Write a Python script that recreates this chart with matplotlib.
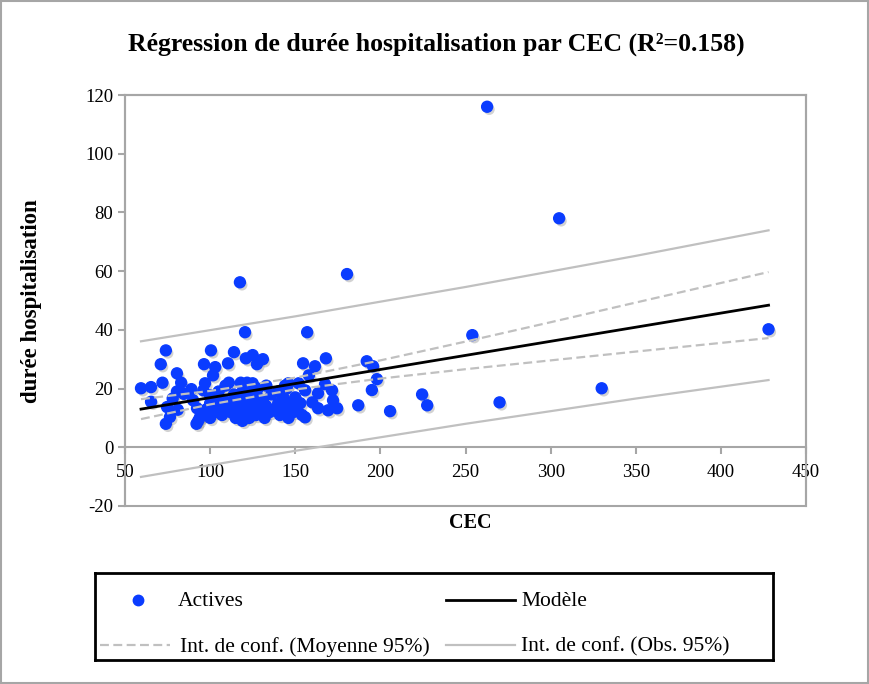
import matplotlib.pyplot as plt
import matplotlib.patheffects as pe
from matplotlib.lines import Line2D
from matplotlib.patches import Rectangle
import numpy as np

cec = np.array([
    59.4, 65.3, 65.3, 71, 74, 72, 74.7, 76.4, 74, 78, 80.5, 81, 80.5, 83, 84.5,
    89, 90, 92, 92.3, 94, 96.4, 97, 96, 98, 100, 100.5, 101.7, 103, 103, 101,
    110.5, 114, 111, 117.5, 120.5, 121, 125, 131, 127.5, 121.7, 125, 146, 152,
    154.6, 157, 161.6, 168, 158, 167.5, 180.4, 192, 195.7, 198, 195, 155.8,
    163.4, 171.6, 172.2, 169.3, 163.4, 174.6, 155.8, 160, 187, 205.7, 224.5,
    227.5, 254, 262.7, 270, 305, 330, 428,
    93, 96, 98, 100, 100, 103, 105, 107, 108, 110, 112, 113, 115, 116, 117,
    118, 119, 120, 121, 122, 123, 124, 125, 126, 127, 128, 129, 130, 131, 132,
    133, 135, 136, 138, 140, 141, 143, 144, 145, 146, 147, 149, 150, 151, 153,
    154, 144, 140, 133, 128, 119, 114, 109, 105, 118, 123,
])
duree = np.array([
    20.1, 20.5, 15.5, 28.3, 33, 22, 13.7, 10.3, 8, 16.6, 25.2, 12.8, 19, 22, 18.2,
    19.8, 16, 8, 13.3, 10.2, 28.3, 21.8, 19.4, 12, 17.7, 33, 24.5, 27.3, 16.7, 14.3,
    28.6, 32.4, 22, 56.2, 39.2, 30.3, 31.4, 30, 28.3, 22, 21.8, 21.8, 21.8,
    28.6, 39.2, 27.6, 30.3, 24.5, 21.5, 59, 29.3, 27.6, 23.2, 19.5, 19.4,
    18.4, 19.4, 16, 12.6, 13.3, 13.3, 10.2, 15.3, 14.3, 12.3, 18,
    14.3, 38.2, 116, 15.3, 78, 20.1, 40.2,
    9, 11, 13, 10, 15, 12, 13, 11, 16, 13, 12, 15, 10, 17, 13,
    11, 9, 14, 16, 12, 10, 18, 13, 15, 11, 17, 13, 12, 16, 10,
    14, 12, 18, 13, 15, 11, 17, 13, 20, 10, 15, 12, 17, 13, 15,
    11, 21, 19, 21, 20, 19, 18, 21, 19, 22, 20,
])

# regression line and confidence bands read at a few CEC values
x_fit = [59.4, 100, 150, 200, 250, 300, 350, 428]
modele = [13.0, 16.9, 21.7, 26.5, 31.3, 36.1, 40.9, 48.4]
moy_haut = [16.4, 19.2, 23.7, 29.6, 36.0, 42.6, 49.3, 59.7]
moy_bas = [9.6, 14.6, 19.7, 23.4, 26.6, 29.6, 32.6, 37.2]
obs_haut = [36.1, 39.9, 44.6, 49.6, 54.6, 59.9, 65.2, 73.9]
obs_bas = [-10.1, -6.1, -1.2, 3.4, 8.0, 12.3, 16.6, 22.9]

blue = '#0a3cff'
grey = '#c0c0c0'
frame = '#a6a6a6'
serif = 'Liberation Serif'

plt.rcParams['font.family'] = serif
plt.rcParams['axes.unicode_minus'] = False

fig = plt.figure(figsize=(8.69, 6.84), dpi=100)
fig.patches.append(Rectangle((0.001, 0.001), 0.998, 0.998, transform=fig.transFigure,
                             fill=False, edgecolor=frame, lw=1.5))

ax = fig.add_axes([125 / 869, 1 - 506 / 684, 681 / 869, 411 / 684])
ax.set_xlim(50, 450)
ax.set_ylim(-20, 120)

ax.scatter(cec, duree, s=62, color=blue, zorder=2,
           path_effects=[pe.SimplePatchShadow(offset=(1.5, -2), shadow_rgbFace='#808080', alpha=0.35),
                         pe.Normal()])
ax.plot(x_fit, obs_haut, color=grey, lw=1.6, zorder=3)
ax.plot(x_fit, obs_bas, color=grey, lw=1.6, zorder=3)
ax.plot(x_fit, moy_haut, color=grey, lw=1.6, ls=(0, (4, 2)), zorder=3)
ax.plot(x_fit, moy_bas, color=grey, lw=1.6, ls=(0, (4, 2)), zorder=3)
ax.plot(x_fit, modele, color='black', lw=2, zorder=4)

for s in ax.spines.values():
    s.set_color(frame)
    s.set_linewidth(1.5)
ax.spines['bottom'].set_position(('data', 0))
ax.add_patch(Rectangle((0, 0), 1, 1, transform=ax.transAxes, fill=False,
                       edgecolor=frame, lw=1.5, clip_on=False))

ax.set_xticks(range(50, 451, 50))
ax.set_yticks(range(-20, 121, 20))
ax.tick_params(axis='both', colors=frame, labelcolor='black', labelsize=13.5,
               length=5, width=1.5, direction='out')
ax.tick_params(axis='x', pad=7)

fig.text(436 / 869, 1 - 44 / 684, 'Régression de durée hospitalisation par CEC (R²=0.158)',
         ha='center', va='center', fontsize=18.5, fontweight='bold')
fig.text(32 / 869, 1 - 301 / 684, 'durée hospitalisation', rotation=90,
         ha='center', va='center', fontsize=16.5, fontweight='bold')
fig.text(470 / 869, 1 - 523 / 684, 'CEC', ha='center', va='center',
         fontsize=14.5, fontweight='bold')

# legend box drawn in its own pixel-like axes
lax = fig.add_axes([95 / 869, 1 - 660 / 684, 678 / 869, 87 / 684])
lax.set_xlim(0, 678)
lax.set_ylim(87, 0)
lax.set_xticks([])
lax.set_yticks([])
for s in lax.spines.values():
    s.set_color('black')
    s.set_linewidth(2)

lax.add_line(Line2D([43], [27], marker='o', ms=7.5, color=blue, ls='none'))
lax.text(83, 29, 'Actives', va='center', fontsize=15.5)
lax.add_line(Line2D([351, 420], [27, 27], color='black', lw=2))
lax.text(426, 29, 'Modèle', va='center', fontsize=15.5)
lax.add_line(Line2D([5, 75], [72, 72], color=grey, lw=1.6, ls=(0, (4, 2))))
lax.text(85, 74, 'Int. de conf. (Moyenne 95%)', va='center', fontsize=15.5)
lax.add_line(Line2D([351, 420], [72, 72], color=grey, lw=1.6))
lax.text(426, 74, 'Int. de conf. (Obs. 95%)', va='center', fontsize=15.5)

fig.savefig('out.png', dpi=100)
